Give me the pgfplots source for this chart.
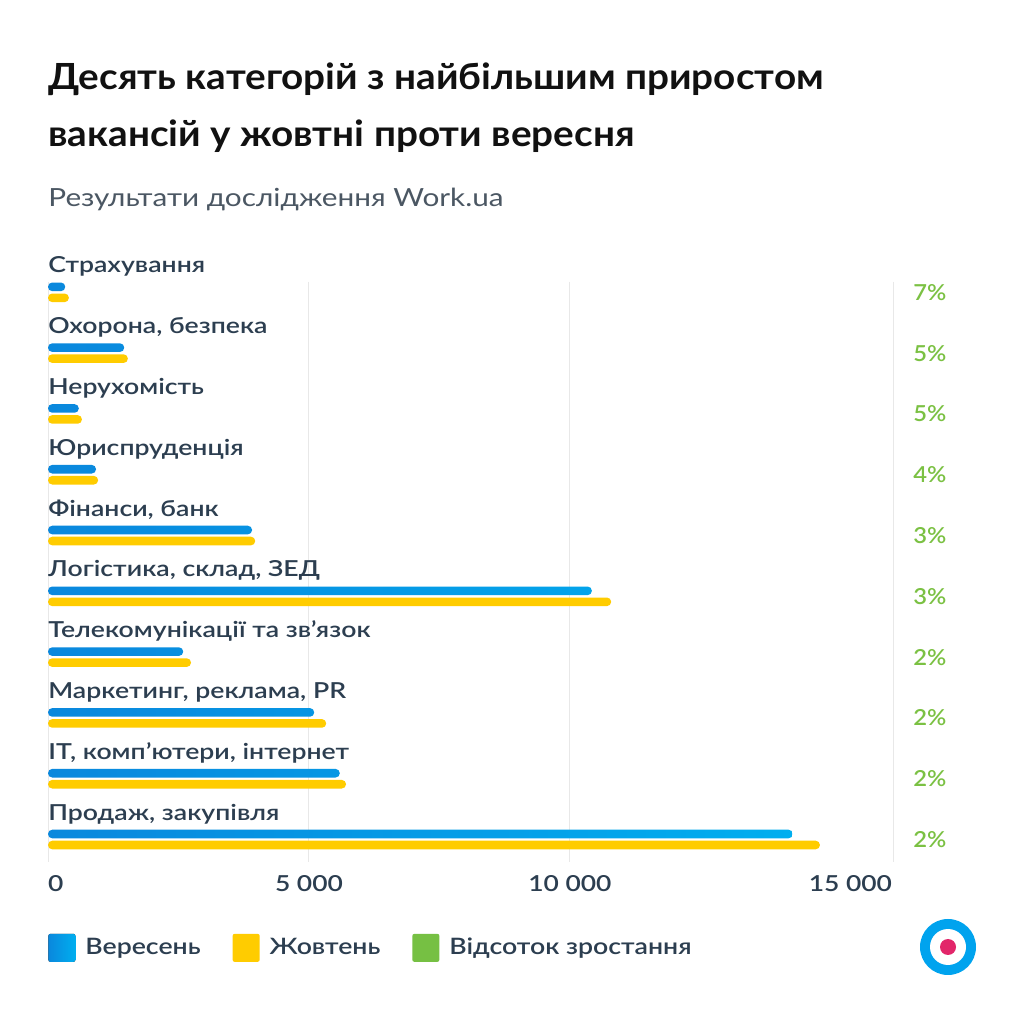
\documentclass[border=0pt]{standalone}
\usepackage{fontspec}
\setmainfont{Lato}
\IfFontExistsTF{Lato Semibold}
  {\newfontfamily\semib{Lato Semibold}[FakeStretch=1.21]
   \newfontfamily\semibl{Lato Semibold}[FakeStretch=1.18]
   \newfontfamily\semibt{Lato Semibold}[FakeStretch=1.2]
   \newfontfamily\semibp{Lato Semibold}[FakeStretch=1.08]}
  {\newfontfamily\semib{Lato}[FakeStretch=1.21, FakeBold=1]
   \newfontfamily\semibl{Lato}[FakeStretch=1.18, FakeBold=1]
   \newfontfamily\semibt{Lato}[FakeStretch=1.2, FakeBold=1]
   \newfontfamily\semibp{Lato}[FakeStretch=1.08, FakeBold=1]}
\newfontfamily\titlef{Lato}[FakeStretch=1.075]
\newfontfamily\subf{Lato}[FakeStretch=1.19]
\usepackage{pgfplots}
\pgfplotsset{compat=1.18}
\definecolor{sepL}{HTML}{0A88DD}
\definecolor{sepR}{HTML}{00AEEF}
\definecolor{sep}{HTML}{00A3EE}
\definecolor{oct}{HTML}{FFCC00}
\definecolor{grow}{HTML}{76C043}
\definecolor{growtxt}{HTML}{7BC143}
\definecolor{txt}{HTML}{2C3E50}
\definecolor{ttl}{HTML}{111111}
\definecolor{subc}{HTML}{4B5763}
\definecolor{gridc}{HTML}{E8E8E8}
\definecolor{logop}{HTML}{E2266A}
\begin{document}
\begin{tikzpicture}
\path[fill=white] (0,0) rectangle (512pt,512pt);
\path[use as bounding box] (0,0) rectangle (512pt,512pt);
\node[anchor=base west, inner sep=0, text=ttl, font=\fontsize{18}{22}\selectfont\titlef\bfseries] at (24pt,467pt) {Десять категорій з найбільшим приростом};
\node[anchor=base west, inner sep=0, text=ttl, font=\fontsize{18}{22}\selectfont\titlef\bfseries] at (24pt,438.5pt) {вакансій у жовтні проти вересня};
\node[anchor=base west, inner sep=0, text=subc, font=\fontsize{12.5}{15}\selectfont\subf] at (24pt,408.5pt) {Результати дослідження Work.ua};
\begin{axis}[
  at={(24pt,81pt)}, anchor=south west,
  scale only axis, width=422.5pt, height=290pt,
  xmin=0, xmax=16190, ymin=-0.17, ymax=9.37,
  y dir=reverse, enlargelimits=false, clip=false,
  axis line style={draw=none},
  major tick length=0pt,
  scaled x ticks=false,
  xtick={0,5000,10000}, xticklabels={\hphantom{0}0,5 000,10 000},
  extra x ticks={16190}, extra x tick labels={15 000},
  extra x tick style={xticklabel style={anchor=north east, xshift=3pt}},
  xmajorgrids, grid style={draw=gridc, line width=0.5pt},
  xticklabel style={font=\fontsize{11}{13}\selectfont\semibt, text=txt, yshift=-3pt},
  ytick={0,...,9},
  yticklabels={Страхування,{Охорона, безпека},Нерухомість,Юриспруденція,{Фінанси, банк},{Логістика, склад, ЗЕД},Телекомунікації та зв’язок,{Маркетинг, реклама, PR},{IT, комп’ютери, інтернет},{Продаж, закупівля}},
  yticklabel style={anchor=base west, inner sep=0pt, yshift=9.75pt, font=\fontsize{11}{13}\selectfont\semib, text=txt},
  xbar, bar width=4.3pt,
  legend columns=3,
  legend style={at={(0,-0.148)}, anchor=west, draw=none, fill=none, inner sep=0pt,
    font=\fontsize{11.3}{13}\selectfont\semibl, text=txt,
    /tikz/every odd column/.append style={column sep=3pt},
    /tikz/every even column/.append style={column sep=14pt}},
  legend image code/.code={\fill[#1, rounded corners=1pt] (0pt,-7pt) rectangle (13.5pt,7pt);},
]
\addplot[draw=none, left color=sepL, right color=sepR, rounded corners=2.1pt, bar shift=2.75pt]
  coordinates {(330,0) (1460,1) (590,2) (920,3) (3910,4) (10420,5) (2590,6) (5100,7) (5590,8) (14270,9)};
\addlegendentry{Вересень}
\addplot[draw=none, fill=oct, rounded corners=2.1pt, bar shift=-2.75pt]
  coordinates {(400,0) (1530,1) (650,2) (960,3) (3970,4) (10790,5) (2740,6) (5330,7) (5710,8) (14790,9)};
\addlegendentry{Жовтень}
\addlegendimage{fill=grow, draw=none}
\addlegendentry{Відсоток зростання}
\node[anchor=west, text=growtxt, font=\fontsize{11}{13}\selectfont\semibp, inner sep=0] at (axis cs:16190,0) [xshift=10pt] {7\%};
\node[anchor=west, text=growtxt, font=\fontsize{11}{13}\selectfont\semibp, inner sep=0] at (axis cs:16190,1) [xshift=10pt] {5\%};
\node[anchor=west, text=growtxt, font=\fontsize{11}{13}\selectfont\semibp, inner sep=0] at (axis cs:16190,2) [xshift=10pt] {5\%};
\node[anchor=west, text=growtxt, font=\fontsize{11}{13}\selectfont\semibp, inner sep=0] at (axis cs:16190,3) [xshift=10pt] {4\%};
\node[anchor=west, text=growtxt, font=\fontsize{11}{13}\selectfont\semibp, inner sep=0] at (axis cs:16190,4) [xshift=10pt] {3\%};
\node[anchor=west, text=growtxt, font=\fontsize{11}{13}\selectfont\semibp, inner sep=0] at (axis cs:16190,5) [xshift=10pt] {3\%};
\node[anchor=west, text=growtxt, font=\fontsize{11}{13}\selectfont\semibp, inner sep=0] at (axis cs:16190,6) [xshift=10pt] {2\%};
\node[anchor=west, text=growtxt, font=\fontsize{11}{13}\selectfont\semibp, inner sep=0] at (axis cs:16190,7) [xshift=10pt] {2\%};
\node[anchor=west, text=growtxt, font=\fontsize{11}{13}\selectfont\semibp, inner sep=0] at (axis cs:16190,8) [xshift=10pt] {2\%};
\node[anchor=west, text=growtxt, font=\fontsize{11}{13}\selectfont\semibp, inner sep=0] at (axis cs:16190,9) [xshift=10pt] {2\%};
\end{axis}
\fill[sep] (474pt,38.5pt) circle (14pt);
\fill[white] (474pt,38.5pt) circle (9pt);
\fill[logop] (474pt,38.5pt) circle (4pt);
\end{tikzpicture}
\end{document}
